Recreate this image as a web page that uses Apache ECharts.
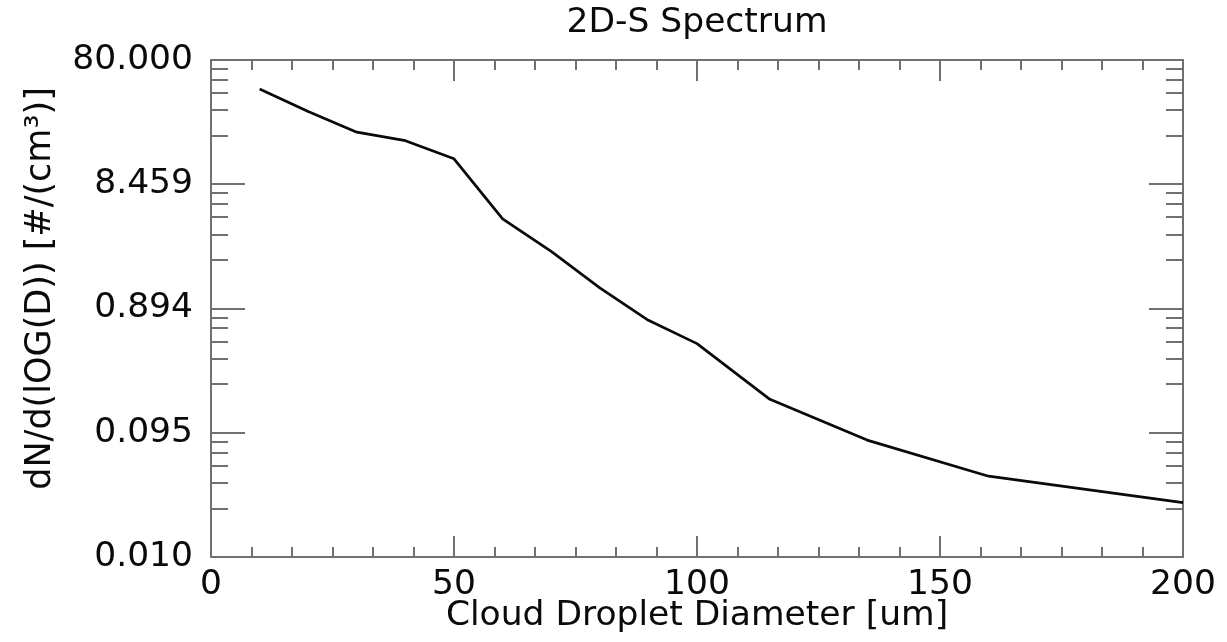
<!DOCTYPE html>
<html>
<head>
<meta charset="utf-8">
<script src="https://cdn.jsdelivr.net/npm/echarts@6/dist/echarts.min.js"></script>
<style>
html,body{margin:0;padding:0;background:#fff;}
#chart{width:1227px;height:642px;}
</style>
</head>
<body>
<div id="chart"></div>
<script>
// ---- data ----
const diameters = [10, 20, 30, 40, 50, 60, 70, 80, 90, 100, 115, 135, 160, 200];
const concentration = [47.4, 31.5, 21.7, 18.6, 13.4, 4.53, 2.51, 1.30, 0.723, 0.474, 0.173, 0.0828, 0.0431, 0.0267];
const yTickValues = [0.01, 0.09458, 0.8944, 8.459, 80];
const xTickValues = [0, 50, 100, 150, 200];
const titleText = '2D-S Spectrum';
const xName = 'Cloud Droplet Diameter [um]';
const yName = 'dN/d(lOG(D)) [#/(cm³)]';

// minor ticks: 6 linear sub-intervals in each major interval
const yMinorValues = [];
for (let i = 0; i < yTickValues.length - 1; i++) {
  const a = yTickValues[i], b = yTickValues[i + 1];
  for (let j = 1; j < 6; j++) yMinorValues.push(a + (b - a) * j / 6);
}

const FONT = 'DejaVu Sans';
const AX = '#707070';
const TXT = '#0a0a0a';
const chart = echarts.init(document.getElementById('chart'));

function yAxisBase(pos, major, showLine, showLabel) {
  return {
    type: 'log',
    position: pos,
    min: yTickValues[0],
    max: yTickValues[yTickValues.length - 1],
    axisLine: {show: showLine, lineStyle: {color: AX, width: 2}},
    axisTick: {
      show: true, inside: true,
      length: major ? 34 : 17,
      lineStyle: {color: AX, width: 2},
      customValues: major ? yTickValues : yMinorValues
    },
    minorTick: {show: false},
    splitLine: {show: false},
    axisLabel: {
      show: showLabel,
      customValues: yTickValues,
      formatter: v => Number(v).toFixed(3),
      fontFamily: FONT, fontSize: 34.5, color: TXT, margin: 18
    }
  };
}

const leftMain = yAxisBase('left', true, true, true);
leftMain.name = yName;
leftMain.nameLocation = 'middle';
leftMain.nameGap = 153;
leftMain.nameMoveOverlap = false;
leftMain.nameTextStyle = {fontFamily: FONT, fontSize: 35, color: TXT, padding: [0, 0, 0, 40]};

function xAxisBase(pos, showLabel) {
  return {
    type: 'value',
    position: pos,
    min: xTickValues[0],
    max: xTickValues[xTickValues.length - 1],
    interval: 50,
    axisLine: {show: true, onZero: false, lineStyle: {color: AX, width: 2}},
    axisTick: {show: true, inside: true, length: 21, lineStyle: {color: AX, width: 2}},
    minorTick: {show: true, splitNumber: 6, length: 10, lineStyle: {color: AX, width: 2}},
    splitLine: {show: false},
    minorSplitLine: {show: false},
    axisLabel: {show: showLabel, fontFamily: FONT, fontSize: 34.5, color: TXT, margin: 11}
  };
}
const xBottom = xAxisBase('bottom', true);
xBottom.name = xName;
xBottom.nameLocation = 'middle';
xBottom.nameGap = 42;
xBottom.nameMoveOverlap = false;
xBottom.nameTextStyle = {fontFamily: FONT, fontSize: 34.5, color: TXT};

chart.setOption({
  animation: false,
  backgroundColor: '#ffffff',
  title: {
    text: titleText,
    left: 697, top: 6, padding: 0, textAlign: 'center',
    textStyle: {fontFamily: FONT, fontSize: 34.5, fontWeight: 'normal', color: TXT}
  },
  grid: {left: 211, right: 44, top: 60, bottom: 85, containLabel: false, outerBoundsMode: 'none'},
  xAxis: [xBottom, xAxisBase('top', false)],
  yAxis: [
    leftMain,
    yAxisBase('left', false, false, false),
    yAxisBase('right', true, true, false),
    yAxisBase('right', false, false, false)
  ],
  series: [{
    type: 'line',
    xAxisIndex: 0,
    yAxisIndex: 0,
    data: diameters.map((d, i) => [d, concentration[i]]),
    showSymbol: false,
    lineStyle: {color: '#0a0a0a', width: 2.7},
    itemStyle: {color: '#0a0a0a'}
  }]
});
</script>
</body>
</html>
